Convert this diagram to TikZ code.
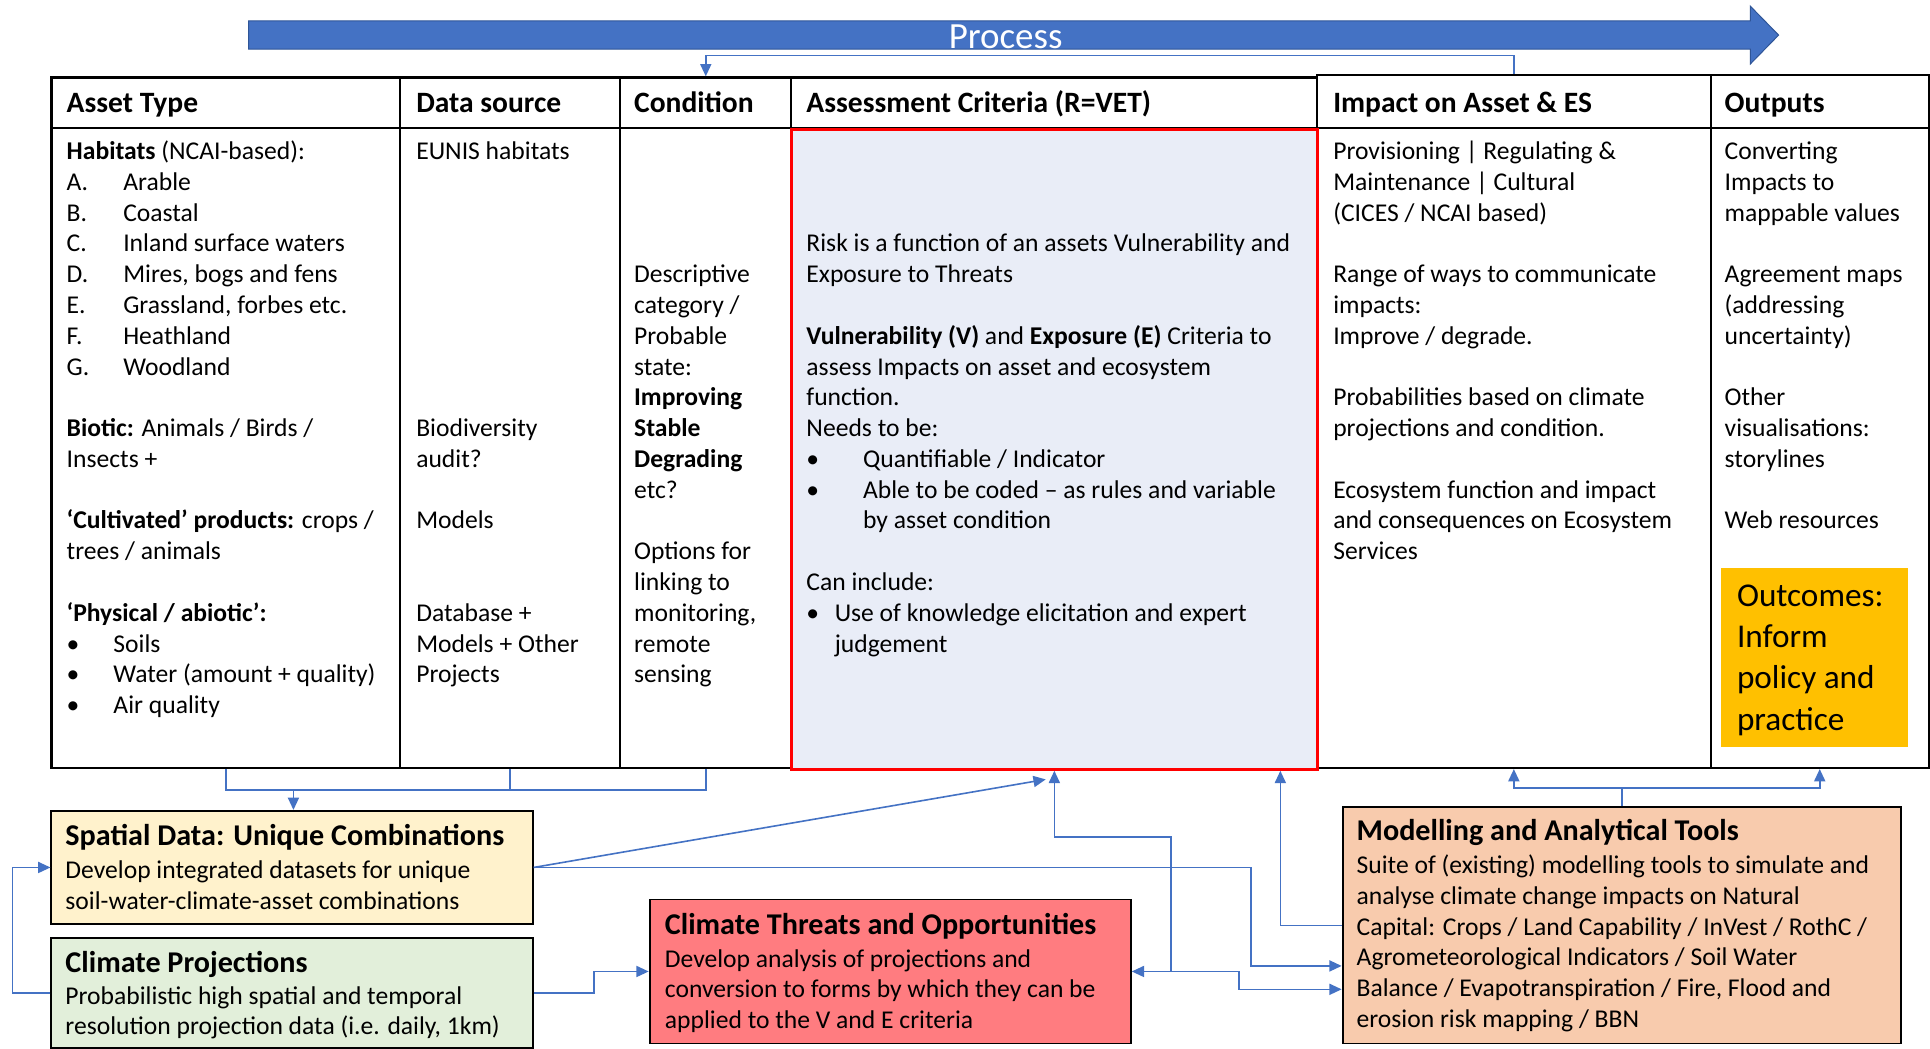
\documentclass[tikz,border=0pt]{standalone}
\usepackage{fontspec}
\setmainfont{Carlito}
\usetikzlibrary{arrows.meta,calc}
\definecolor{cblue}{HTML}{4472C4}
\definecolor{pblue}{HTML}{4472C4}
\definecolor{pborder}{HTML}{2F5597}
\definecolor{assfill}{HTML}{E9EDF7}
\definecolor{spfill}{HTML}{FFF2CC}
\definecolor{prfill}{HTML}{E2EFDA}
\definecolor{thfill}{HTML}{FF7C80}
\definecolor{mofill}{HTML}{F8CBAD}
\definecolor{ocfill}{HTML}{FFC000}
\newcommand\fsz[2]{\fontsize{#1}{#2}\selectfont}
\begin{document}
\begin{tikzpicture}[x=1pt,y=1pt,
  cellbox/.style={draw=black, line width=1.8pt, anchor=north west, inner sep=0pt, minimum height=#1},
  hd/.style={anchor=base west, inner sep=0pt, font=\fsz{24}{29}\bfseries},
  tx/.style={anchor=north west, inner sep=0pt, align=left, font=\fsz{20.8}{25}, yshift=10pt},
  ttl/.style={anchor=base west, inner sep=0pt, font=\fsz{24.5}{29}\bfseries},
  bbox/.style={draw=black, line width=1.5pt, anchor=north west, inner sep=0pt},
  conn/.style={draw=cblue, line width=1.3pt},
  arr/.style={-{Triangle[length=10pt,width=9pt]}}
]
\useasboundingbox (0,0) rectangle (1568,-852);
\fill[white] (0,0) rectangle (1568,-852);

% Process arrow
\draw[fill=pblue, draw=pborder, line width=0.8pt] (202,-17) -- (1422,-17) -- (1422,-5) -- (1445,-28.5) -- (1422,-52) -- (1422,-40) -- (202,-40) -- cycle;
\node[anchor=base, inner sep=0pt, text=white, font=\fsz{30}{36}] (proc) at (817,-39) {Process};

% Header cells
\node[cellbox=41pt, minimum width=283pt] (assetH) at (41,-62) {};
\node[cellbox=41pt, minimum width=179pt] (dataH) at (324,-62) {};
\node[cellbox=41pt, minimum width=139pt] (condH) at (503,-62) {};
\node[cellbox=41pt, minimum width=427pt] (assessH) at (642,-62) {};
\node[cellbox=43pt, minimum width=320pt] (impactH) at (1069,-60) {};
\node[cellbox=43pt, minimum width=177pt] (outH) at (1389,-60) {};
% Body cells
\node[cellbox=520pt, minimum width=283pt] (asset) at (41,-103) {};
\node[cellbox=520pt, minimum width=179pt] (data) at (324,-103) {};
\node[cellbox=520pt, minimum width=139pt] (cond) at (503,-103) {};
\node[cellbox=520pt, minimum width=320pt] (impact) at (1069,-103) {};
\node[cellbox=520pt, minimum width=177pt] (out) at (1389,-103) {};
\node[cellbox=520pt, minimum width=427pt, draw=red, fill=assfill, line width=2.2pt] (assess) at (642,-104) {};

% Header texts
\node[hd] (h1) at (54,-91) {Asset Type};
\node[hd] (h2) at (338,-91) {Data source};
\node[hd] (h3) at (515,-91) {Condition};
\node[hd] (h4) at (655,-91) {Assessment Criteria (R=VET)};
\node[hd] (h5) at (1083,-91) {Impact on Asset \& ES};
\node[hd] (h6) at (1401,-91) {Outputs};

% Column 1
\node[tx] (c1a) at (54,-122) {\strut\textbf{Habitats} (NCAI-based):\\
\makebox[46pt][l]{A.}Arable\\
\makebox[46pt][l]{B.}Coastal\\
\makebox[46pt][l]{C.}Inland surface waters\\
\makebox[46pt][l]{D.}Mires, bogs and fens\\
\makebox[46pt][l]{E.}Grassland, forbes etc.\\
\makebox[46pt][l]{F.}Heathland\\
\makebox[46pt][l]{G.}Woodland};
\node[tx] (c1b) at (54,-347) {\strut\textbf{Biotic:} Animals / Birds /\\Insects +};
\node[tx] (c1c) at (54,-422) {\strut\textbf{‘Cultivated’ products:} crops /\\trees / animals};
\node[tx] (c1d) at (54,-497) {\strut\textbf{‘Physical / abiotic’:}\\
\makebox[38pt][l]{•}Soils\\
\makebox[38pt][l]{•}Water (amount + quality)\\
\makebox[38pt][l]{•}Air quality};

% Column 2
\node[tx] (c2a) at (338,-122) {\strut EUNIS habitats};
\node[tx] (c2b) at (338,-347) {\strut Biodiversity\\audit?};
\node[tx] (c2c) at (338,-422) {\strut Models};
\node[tx] (c2d) at (338,-497) {\strut Database +\\Models + Other\\Projects};

% Column 3
\node[tx] (c3a) at (515,-222) {\strut Descriptive\\category /\\Probable\\state:\\\textbf{Improving}\\\textbf{Stable}\\\textbf{Degrading}\\etc?};
\node[tx] (c3b) at (515,-447) {\strut Options for\\linking to\\monitoring,\\remote\\sensing};

% Column 4
\node[tx] (c4a) at (655,-197) {\strut Risk is a function of an assets Vulnerability and\\Exposure to Threats};
\node[tx] (c4b) at (655,-272) {\strut\textbf{Vulnerability (V)} and \textbf{Exposure (E)} Criteria to\\
assess Impacts on asset and ecosystem\\
function.\\
Needs to be:\\
\makebox[46pt][l]{•}Quantifiable / Indicator\\
\makebox[46pt][l]{•}Able to be coded – as rules and variable\\
\hspace*{46pt}by asset condition};
\node[tx] (c4c) at (655,-472) {\strut Can include:\\
\makebox[23pt][l]{•}Use of knowledge elicitation and expert\\
\hspace*{23pt}judgement};

% Column 5
\node[tx] (c5a) at (1083,-122) {\strut Provisioning | Regulating \&\\Maintenance | Cultural\\(CICES / NCAI based)};
\node[tx] (c5b) at (1083,-222) {\strut Range of ways to communicate\\impacts:\\Improve / degrade.};
\node[tx] (c5c) at (1083,-322) {\strut Probabilities based on climate\\projections and condition.};
\node[tx] (c5d) at (1083,-397) {\strut Ecosystem function and impact\\and consequences on Ecosystem\\Services};

% Column 6
\node[tx] (c6a) at (1401,-122) {\strut Converting\\Impacts to\\mappable values};
\node[tx] (c6b) at (1401,-222) {\strut Agreement maps\\(addressing\\uncertainty)};
\node[tx] (c6c) at (1401,-322) {\strut Other\\visualisations:\\storylines};
\node[tx] (c6d) at (1401,-422) {\strut Web resources};

% Outcomes
\node[anchor=north west, inner sep=0pt, fill=ocfill, minimum width=152pt, minimum height=146pt] (outc) at (1398,-461) {};
\node[anchor=north west, inner sep=0pt, align=left, font=\fsz{27}{33.5}, yshift=15pt] (outct) at (1411,-484) {\strut Outcomes:\\Inform\\policy and\\practice};

% Bottom boxes
\node[bbox, fill=spfill, minimum width=391pt, minimum height=92pt] (spatial) at (41,-658) {};
\node[ttl] (spt) at (53,-687) {Spatial Data: Unique Combinations};
\node[tx] (spb) at (53,-706) {\strut Develop integrated datasets for unique\\soil-water-climate-asset combinations};

\node[bbox, fill=prfill, minimum width=391pt, minimum height=90pt] (proj) at (41,-761) {};
\node[ttl] (prt) at (53,-790) {Climate Projections};
\node[tx] (prb) at (53,-808) {\strut Probabilistic high spatial and temporal\\resolution projection data (i.e. daily, 1km)};

\node[bbox, fill=thfill, minimum width=391pt, minimum height=117pt] (threat) at (527,-730) {};
\node[ttl] (tht) at (540,-759) {Climate Threats and Opportunities};
\node[tx] (thb) at (540,-778) {\strut Develop analysis of projections and\\conversion to forms by which they can be\\applied to the V and E criteria};

\node[bbox, fill=mofill, minimum width=454pt, minimum height=192pt] (model) at (1090,-655) {};
\node[ttl] (mot) at (1102,-683) {Modelling and Analytical Tools};
\node[tx] (mob) at (1102,-702) {\strut Suite of (existing) modelling tools to simulate and\\analyse climate change impacts on Natural\\Capital: Crops / Land Capability / InVest / RothC /\\Agrometeorological Indicators / Soil Water\\Balance / Evapotranspiration / Fire, Flood and\\erosion risk mapping / BBN};

% Connectors
\draw[conn,arr] (impactH.north) -- ++(0,15) -| (condH.north);

\coordinate (j1) at ($(asset.south)+(55,-17)$);
\draw[conn] (asset.south) -- ++(0,-17) -| (cond.south);
\draw[conn] (data.south) -- ++(0,-17);
\draw[conn,arr] (j1) -- (spatial.north -| j1);

\draw[conn,arr] (spatial.east) -- ($(assess.south)+(-7,-7)$);
\draw[conn,arr] (spatial.east) -- ++(583,0) |- ($(model.west)+(0,-33)$);

\coordinate (j2) at ($(threat.east)+(32,0)$);
\draw[conn,arr] (j2) |- ($(assess.south)+(0,-54)$) -- (assess.south);
\draw[conn,arr] (j2) -- (threat.east);
\draw[conn,arr] (j2) -- ++(55,0) |- ($(model.west)+(0,-52)$);

\draw[conn,arr] (model.west) -| ($(assess.south east)+(-31,0)$);
\draw[conn,arr] (model.north) -- ++(0,15) -| (impact.south);
\draw[conn,arr] (model.north) -- ++(0,15) -| (out.south);

\draw[conn,arr] (proj.east) -- ++(49,0) |- (threat.west);
\draw[conn,arr] (proj.west) -- ++(-31,0) |- (spatial.west);
\end{tikzpicture}
\end{document}
